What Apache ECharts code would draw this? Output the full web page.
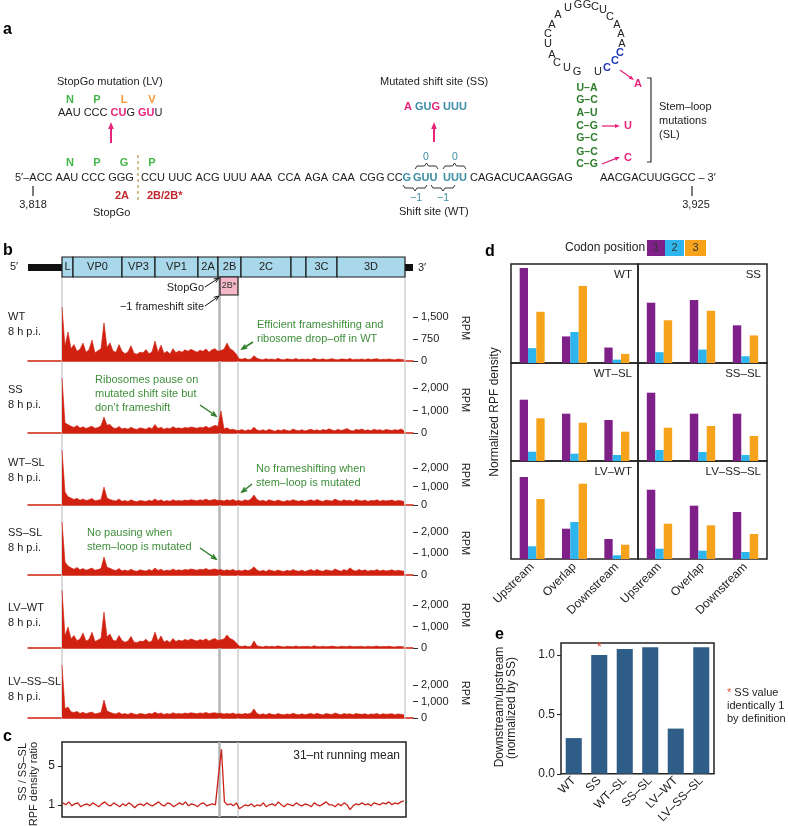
<!DOCTYPE html>
<html>
<head>
<meta charset="utf-8">
<script src="https://cdn.jsdelivr.net/npm/echarts@6/dist/echarts.min.js"></script>
<style>html,body{margin:0;padding:0;background:#fff}#chart{width:788px;height:826px}</style>
</head>
<body>
<div id="chart"></div>
<script>
// ---- data ----
var trackNames = ['WT', 'SS', 'WT\u2013SL', 'SS\u2013SL', 'LV\u2013WT', 'LV\u2013SS\u2013SL'];

// ribosome profiles, RPM, one value per genome bin (115 bins)
var wtRPM = [1840,500,990,420,560,330,400,610,300,380, 715,280,350,420,1300,460,620,340,300,560,
	330,250,310,520,260,230,300,280,390,250, 310,680,300,540,260,330,240,420,280,350,
	300,380,330,400,350,300,370,330,410,300, 380,420,330,360,400,610,420,360,250,80,
	60,90,50,70,180,90,60,40,80,50, 70,45,90,55,40,75,60,50,85,45,
	65,55,70,40,95,60,50,75,45,60, 80,55,40,70,65,50,85,45,60,55,
	70,40,75,50,65,80,45,60,55,70, 50,40,65,55,45];
var ssRPM = [2450,440,380,300,250,330,220,280,200,260, 300,210,240,320,710,350,380,230,200,290,
	180,220,170,260,190,160,230,200,170,250, 190,380,200,260,170,220,190,280,210,230,
	200,250,220,270,240,210,260,230,300,220, 280,340,290,980,180,230,150,170,120,110,
	160,90,140,120,260,130,100,150,90,170, 120,80,140,100,160,110,90,180,120,100,
	150,90,130,170,110,140,95,160,120,190, 130,100,170,110,150,200,120,90,160,130,
	180,110,140,95,170,120,150,100,160,130, 110,150,120,180,100];
var wtslRPM = [2970,700,450,380,300,360,260,330,240,280, 350,230,260,300,970,380,300,250,220,330,
	200,240,190,280,210,180,250,220,190,260, 210,330,220,280,190,240,200,290,220,250,
	220,270,240,290,260,230,280,250,320,240, 270,300,240,260,220,280,240,300,220,250,
	200,280,230,330,540,300,210,260,190,280, 230,200,270,220,180,250,210,290,230,200,
	260,190,240,280,210,300,230,190,270,240, 210,320,250,200,280,230,260,190,300,240,
	220,270,190,250,230,280,200,260,220,240, 270,200,250,230,190];
var ssslRPM = [2460,600,420,330,270,350,240,300,220,270, 320,220,250,300,830,360,310,240,210,300,
	190,230,180,270,200,170,240,210,180,250, 200,320,210,270,180,230,200,280,210,240,
	210,260,230,280,250,220,270,240,300,230, 260,280,230,250,200,240,210,260,190,220,
	180,240,200,260,380,230,170,220,160,240, 200,170,230,190,160,220,180,250,200,170,
	230,160,210,250,180,260,200,170,240,210, 180,280,220,170,250,200,330,220,180,260,
	200,240,170,220,200,250,180,230,190,210, 240,180,220,200,170];
var lvwtRPM = [2700,560,980,430,580,340,420,700,320,400, 730,300,370,450,1670,520,650,360,320,580,
	350,270,330,540,280,250,320,300,410,270, 330,740,320,560,280,350,260,440,300,370,
	320,400,350,420,370,320,390,350,430,320, 400,440,350,380,420,600,440,380,260,90,
	70,100,60,80,330,100,70,50,90,60, 80,55,100,65,50,85,70,60,95,55,
	75,65,80,50,105,70,60,85,55,70, 90,65,50,80,75,60,95,55,70,65,
	80,50,85,60,75,90,55,70,65,80, 60,50,75,65,55];
var lvssslRPM = [3200,560,670,380,330,400,280,350,260,320, 360,250,290,340,1090,420,350,280,250,340,
	230,270,210,310,240,200,280,250,210,290, 240,360,250,310,210,270,230,320,250,280,
	250,300,270,320,290,260,310,280,340,270, 300,320,270,290,240,280,250,300,230,260,
	220,280,240,300,550,270,200,260,190,280, 230,200,270,220,190,250,210,290,230,200,
	260,190,240,280,210,290,230,190,270,240, 210,300,250,200,270,230,260,190,280,240,
	220,260,190,250,230,270,200,260,220,240, 260,200,250,230,190];

// panel c: SS / SS-SL ratio, 31-nt running mean
var ratioSS = [1.2,1.0,1.3,0.9,1.1,1.2,0.8,1.0,1.1,0.9, 1.2,1.0,0.8,1.1,1.3,1.0,0.9,1.2,1.0,0.8,
	1.1,0.9,1.2,1.0,0.7,1.0,1.1,0.9,1.2,1.0, 0.9,1.1,1.3,1.0,0.9,1.2,1.1,0.8,1.0,1.2,
	1.0,1.3,0.9,1.1,1.0,0.8,1.1,1.2,0.9,1.0, 1.1,1.0,4.0,6.7,1.3,1.0,1.1,0.9,1.2,0.6,
	0.8,1.0,0.9,1.1,0.8,1.0,0.9,1.2,0.8,1.0, 1.1,0.9,1.3,1.0,0.8,1.1,1.0,0.9,1.2,1.0,
	0.9,1.1,1.0,0.8,1.2,1.0,0.9,1.1,1.3,1.0, 1.0,0.8,1.1,0.9,1.2,1.0,0.5,0.9,1.1,1.0,
	1.2,1.0,1.1,0.9,1.2,1.1,1.0,1.2,1.1,1.3, 1.0,1.2,1.1,1.3,1.4];

// panel d: normalized RPF density by codon position
var regions = ['Upstream', 'Overlap', 'Downstream'];
var codonPos1 = [[94,26.3,15.3],[59.7,62.3,37.3],[61.3,47.3,41],[68.3,47.3,47.3],[82,30.3,20],[69.3,53.3,47]];
var codonPos2 = [[14.7,30.7,3.3],[10.7,13.3,6.7],[9.3,7.3,6],[11,9,6],[12.7,37,3.7],[10.3,8.3,7]];
var codonPos3 = [[50.7,76.3,9],[42.3,51.7,27.3],[42.7,38.3,29.3],[33.3,35,25],[60,75.3,14.3],[35.3,33.7,25]];

// panel e
var eCats = ['WT', 'SS', 'WT\u2013SL', 'SS\u2013SL', 'LV\u2013WT', 'LV\u2013SS\u2013SL'];
var eVals = [0.30, 1.0, 1.05, 1.065, 0.38, 1.065];

// ---- styling helpers ----
var FONT = '"Liberation Sans", Arial, Helvetica, sans-serif';
var RED = '#d0200f', GREEN = '#3f8f3a', PINK = '#e5247c', TEAL = '#3b8ca5', AAGREEN = '#43b649';
var cPurple = '#7e2087', cBlue = '#2fb5ee', cOrange = '#f7a21b';

function T(x, y, s, o) {
	o = o || {};
	var st = {text: s, fill: o.color || '#222', fontSize: o.size || 11, fontFamily: FONT,
		fontWeight: o.bold ? 'bold' : 'normal',
		textAlign: o.align || 'left', align: o.align || 'left',
		textVerticalAlign: 'middle', verticalAlign: 'middle'};
	if (o.rich) st.rich = o.rich;
	return {type: 'text', x: x, y: y, rotation: o.rot || 0, z: 100, style: st};
}
function R(c, bold, size) {
	return {fill: c, fontFamily: FONT, fontSize: size || 11, fontWeight: bold ? 'bold' : 'normal'};
}
function L(x1, y1, x2, y2, color, w, dash, z) {
	return {type: 'line', z: z || 100, shape: {x1: x1, y1: y1, x2: x2, y2: y2},
		style: {stroke: color, lineWidth: w || 1, lineDash: dash || null}};
}
function arrow(x1, y1, x2, y2, color, lw, hl, open) {
	hl = hl || 6; var hw = hl * 0.8; lw = lw || 1.5;
	var a = Math.atan2(y2 - y1, x2 - x1), c = Math.cos(a), s = Math.sin(a);
	var bx = x2 - hl * c, by = y2 - hl * s;
	var p1 = [bx - hw / 2 * s, by + hw / 2 * c], p2 = [bx + hw / 2 * s, by - hw / 2 * c];
	if (open) {
		return [L(x1, y1, x2, y2, color, lw),
			{type: 'polyline', z: 100, shape: {points: [p1, [x2, y2], p2]}, style: {stroke: color, lineWidth: lw, fill: null}}];
	}
	return [L(x1, y1, bx + c, by + s, color, lw),
		{type: 'polygon', z: 100, shape: {points: [[x2, y2], p1, p2]}, style: {fill: color}}];
}
function brace(x1, x2, y, dir, color) {
	var xm = (x1 + x2) / 2, d = 3 * dir;
	return {type: 'polyline', z: 100, shape: {points: [[x1, y + d], [x1 + 2, y], [xm - 2, y], [xm, y - d], [xm + 2, y], [x2 - 2, y], [x2, y + d]]},
		style: {stroke: color, lineWidth: 1, fill: null}};
}

var G = [];
function add(e) { if (Array.isArray(e)) { G.push.apply(G, e); } else { G.push(e); } }

// ---------- panel a ----------
add(T(3, 30, 'a', {bold: true, size: 16, color: '#000'}));
add(T(57, 82, 'StopGo mutation (LV)'));
add(T(70, 100, 'N', {bold: true, color: AAGREEN, align: 'center'}));
add(T(97, 100, 'P', {bold: true, color: AAGREEN, align: 'center'}));
add(T(124, 100, 'L', {bold: true, color: '#f29a35', align: 'center'}));
add(T(152, 100, 'V', {bold: true, color: '#f29a35', align: 'center'}));
add(T(58, 113, '{k|AAU CCC }{p|CU}{k|G }{p|GU}{k|U}', {rich: {k: R('#222'), p: R(PINK, true)}}));
add(arrow(111, 143, 111, 122, PINK, 2, 7));
add(T(70, 163, 'N', {bold: true, color: AAGREEN, align: 'center'}));
add(T(97, 163, 'P', {bold: true, color: AAGREEN, align: 'center'}));
add(T(124, 163, 'G', {bold: true, color: AAGREEN, align: 'center'}));
add(T(152, 163, 'P', {bold: true, color: AAGREEN, align: 'center'}));
add(L(138, 155, 138, 201, '#b8963e', 1.2, [3, 3]));
add(T(15, 178, '5\u2032\u2013ACC AAU CCC GGG'));
var midCodons = ['CCU', 'UUC', 'ACG', 'UUU', 'AAA', 'CCA', 'AGA', 'CAA', 'CGG', 'CC'];
midCodons.forEach(function (c, i) { add(T(141 + 27.3 * i, 178, c)); });
add(T(402.5, 178, 'G', {color: TEAL, bold: true}));
add(T(413, 178, 'GUU', {color: TEAL, bold: true}));
add(T(443, 178, 'UUU', {color: TEAL, bold: true}));
add(T(470, 178, 'CAGACUCAAGGAG'));
add(T(600, 178, 'AACGACUUGGCC \u2013 3\u2032'));
add(T(122, 196, '2A', {bold: true, color: '#c0272d', align: 'center'}));
add(T(147, 196, '2B/2B*', {bold: true, color: '#c0272d'}));
add(L(33, 186, 33, 196, '#222', 1.2));
add(T(33, 205, '3,818', {align: 'center'}));
add(T(93, 213, 'StopGo'));

add(T(380, 82, 'Mutated shift site (SS)'));
add(T(404, 107, '{p|A} {t|GU}{p|G} {t|UUU}', {rich: {p: R(PINK, true), t: R(TEAL, true)}}));
add(arrow(434, 142, 434, 122, PINK, 2, 7));
add(brace(415, 438, 166, 1, '#333'));
add(brace(443, 466, 166, 1, '#333'));
add(T(426, 157, '0', {color: TEAL, align: 'center', size: 10.5}));
add(T(455, 157, '0', {color: TEAL, align: 'center', size: 10.5}));
add(brace(403, 427, 188, -1, '#333'));
add(brace(431, 455, 188, -1, '#333'));
add(T(416, 198, '\u22121', {color: TEAL, align: 'center', size: 10.5}));
add(T(443, 198, '\u22121', {color: TEAL, align: 'center', size: 10.5}));
add(T(399, 212, 'Shift site (WT)'));
add(L(692, 186, 692, 196, '#222', 1.2));
add(T(696, 205, '3,925', {align: 'center'}));

// stem-loop
var loopLetters = [['C',557,63],['U',567,68],['G',577,72],['A',552,55],['U',548,44],['C',548,34],['A',552,25],
	['A',558,15],['U',568,8],['G',578,5],['G',587,5],['C',595,7],['U',603,10],['C',610,17],['A',617,25],
	['A',621,34],['A',622,44],['U',598,72]];
loopLetters.forEach(function (l) { add(T(l[1], l[2], l[0], {align: 'center', size: 11})); });
[['C',620,53],['C',615,61],['C',607,68]].forEach(function (l) { add(T(l[1], l[2], l[0], {align: 'center', size: 11, bold: true, color: '#2036b8'})); });
var stemPairs = ['U\u2013A', 'G\u2013C', 'A\u2013U', 'C\u2013G', 'G\u2013C', 'G\u2013C', 'C\u2013G'];
var stemY = [88, 100, 113, 126, 138, 152, 164];
stemPairs.forEach(function (p, i) { add(T(587, stemY[i], p, {align: 'center', bold: true, color: '#2e7d2a', size: 10.5})); });
add(arrow(620, 70, 634, 80, PINK, 1.3, 5));
add(T(638, 84, 'A', {align: 'center', bold: true, color: PINK}));
add(arrow(602, 126, 620, 126, PINK, 1.3, 5));
add(T(628, 126, 'U', {align: 'center', bold: true, color: PINK}));
add(arrow(602, 164, 620, 157, PINK, 1.3, 5));
add(T(628, 158, 'C', {align: 'center', bold: true, color: PINK}));
add({type: 'polyline', z: 100, shape: {points: [[647, 78], [651, 78], [651, 162], [647, 162]]}, style: {stroke: '#333', lineWidth: 1.2, fill: null}});
add(T(659, 107, 'Stem\u2013loop'));
add(T(659, 121, 'mutations'));
add(T(659, 135, '(SL)'));

// ---------- panel b: genome map ----------
add(T(3, 251, 'b', {bold: true, size: 16, color: '#000'}));
add(T(10, 267, '5\u2032'));
add({type: 'rect', z: 100, shape: {x: 28, y: 264, width: 34, height: 7}, style: {fill: '#111'}});
add({type: 'rect', z: 100, shape: {x: 405, y: 264, width: 8, height: 7}, style: {fill: '#111'}});
add(T(418, 268, '3\u2032'));
var genes = [['L',62,73],['VP0',73,122],['VP3',122,155],['VP1',155,198],['2A',198,218],['2B',218,241],
	['2C',241,291],['',291,306],['3C',306,337],['3D',337,405]];
genes.forEach(function (g) {
	add({type: 'rect', z: 100, shape: {x: g[1], y: 257, width: g[2] - g[1], height: 20}, style: {fill: '#a9d8ea', stroke: '#1b1b1b', lineWidth: 1.2}});
	if (g[0]) add(T((g[1] + g[2]) / 2, 267, g[0], {align: 'center', size: 11}));
});
add({type: 'rect', z: 100, shape: {x: 220, y: 277, width: 18, height: 18}, style: {fill: '#f4b8c9', stroke: '#1b1b1b', lineWidth: 1.2}});
add(T(229, 286, '2B*', {align: 'center', size: 9, color: '#333'}));
add(arrow(205, 287, 219, 278, '#111', 1, 5, true));
add(T(204, 288, 'StopGo', {align: 'right'}));
add(arrow(205, 306, 219, 296, '#111', 1, 5, true));
add(T(204, 307, '\u22121 frameshift site', {align: 'right'}));

// reference lines through the tracks
add(L(62, 277, 62, 719, '#c4c4c4', 1.2, null, 1));
add(L(219.5, 277, 219.5, 719, '#b4b4b4', 2.5, null, 1));
add(L(238, 295, 238, 719, '#c8c8c8', 1.3, null, 1));
add(L(405, 277, 405, 719, '#c8c8c8', 1.2, null, 1));
add(L(219.5, 742, 219.5, 817, '#b4b4b4', 2.5, null, 1));
add(L(238, 742, 238, 817, '#c8c8c8', 1.3, null, 1));

// track labels
var nameY = [317, 390, 463, 533, 608, 682];
var rpmY = [328, 400, 475, 543, 615, 693];
trackNames.forEach(function (n, i) {
	add(T(8, nameY[i], n));
	add(T(8, nameY[i] + 15, '8 h p.i.'));
	add(T(465, rpmY[i], 'RPM', {align: 'center', rot: -Math.PI / 2}));
});

// annotations
add(T(257, 325, 'Efficient frameshifting and', {color: GREEN}));
add(T(257, 339, 'ribosome drop\u2013off in WT', {color: GREEN}));
add(arrow(253, 342, 242, 349, '#2f7d2a', 1.5, 5, true));
add(T(95, 380, 'Ribosomes pause on', {color: GREEN}));
add(T(95, 394, 'mutated shift site but', {color: GREEN}));
add(T(95, 408, 'don\u2019t frameshift', {color: GREEN}));
add(arrow(200, 405, 216, 416, '#2f7d2a', 1.5, 5, true));
add(T(256, 469, 'No frameshifting when', {color: GREEN}));
add(T(256, 483, 'stem\u2013loop is mutated', {color: GREEN}));
add(arrow(252, 484, 242, 492, '#2f7d2a', 1.5, 5, true));
add(T(87, 533, 'No pausing when', {color: GREEN}));
add(T(87, 547, 'stem\u2013loop is mutated', {color: GREEN}));
add(arrow(200, 548, 216, 559, '#2f7d2a', 1.5, 5, true));

// ---------- panel c labels ----------
add(T(3, 737, 'c', {bold: true, size: 16, color: '#000'}));
add(T(23, 772, 'SS / SS\u2013SL', {align: 'center', rot: Math.PI / 2, size: 11}));
add(T(34, 784, 'RPF density ratio', {align: 'center', rot: Math.PI / 2, size: 11}));
add(T(400, 756, '31\u2013nt running mean', {align: 'right', size: 12}));

// ---------- panel d labels ----------
add(T(485, 252, 'd', {bold: true, size: 16, color: '#000'}));
add(T(565, 248, 'Codon position', {size: 12}));
[[647, 18, cPurple, '1'], [665, 19, cBlue, '2'], [685, 21, cOrange, '3']].forEach(function (b) {
	add({type: 'rect', z: 100, shape: {x: b[0], y: 240, width: b[1], height: 16}, style: {fill: b[2]}});
	add(T(b[0] + b[1] / 2, 248, b[3], {align: 'center', size: 11, color: '#333'}));
});
add(T(495, 412, 'Normalized RPF density', {align: 'center', rot: Math.PI / 2, size: 12}));

// ---------- panel e labels ----------
add(T(495, 635, 'e', {bold: true, size: 16, color: '#000'}));
add(T(500, 707, 'Downstream/upstream', {align: 'center', rot: Math.PI / 2, size: 12}));
add(T(512, 708, '(normalized by SS)', {align: 'center', rot: Math.PI / 2, size: 12}));
add(T(727, 693, '{r|*} SS value', {size: 11, rich: {r: R('#e0533b', false, 11)}}));
add(T(727, 706, 'identically 1', {size: 11}));
add(T(727, 719, 'by definition', {size: 11}));

// ---------- chart option ----------
var grids = [], xAxes = [], yAxes = [], series = [];
var trackData = [wtRPM, ssRPM, wtslRPM, ssslRPM, lvwtRPM, lvssslRPM];
var trackBox = [[295, 66, 2250, [0, 750, 1500]], [365.5, 67.5, 3000, [0, 1000, 2000]], [449.5, 55.5, 3000, [0, 1000, 2000]],
	[510.2, 64.8, 3000, [0, 1000, 2000]], [583.5, 64.5, 3000, [0, 1000, 2000]], [652, 66, 4000, [0, 1000, 2000]]];

trackData.forEach(function (arr, k) {
	var b = trackBox[k];
	grids.push({left: 28, top: b[0], width: 385, height: b[1]});
	xAxes.push({type: 'value', gridIndex: k, min: -11.333, max: 117,
		axisLine: {show: true, lineStyle: {color: RED, width: 1.5}}, axisTick: {show: false},
		axisLabel: {show: false}, splitLine: {show: false}});
	yAxes.push({type: 'value', gridIndex: k, position: 'right', min: 0, max: b[2],
		axisLine: {show: false, onZero: false}, splitLine: {show: false},
		axisTick: {show: true, length: 5, customValues: b[3], lineStyle: {color: '#333'}},
		axisLabel: {customValues: b[3], margin: 8, fontSize: 11, color: '#222', fontFamily: FONT,
			formatter: function (v) { return v.toLocaleString('en-US'); }}});
	series.push({type: 'line', xAxisIndex: k, yAxisIndex: k, silent: true, symbol: 'none',
		data: arr.map(function (v, i) { return [i, v]; }),
		lineStyle: {color: RED, width: 0.6}, areaStyle: {color: RED, opacity: 1}});
});

// panel c
grids.push({left: 62, top: 742, width: 344, height: 75, show: true, borderColor: '#222', borderWidth: 1.5});
xAxes.push({type: 'value', gridIndex: 6, min: -0.3, max: 114.7, axisLine: {show: false}, axisTick: {show: false},
	axisLabel: {show: false}, splitLine: {show: false}});
yAxes.push({type: 'value', gridIndex: 6, min: -0.25, max: 7.45, axisLine: {show: false, onZero: false}, splitLine: {show: false},
	axisTick: {show: true, length: 4, customValues: [1, 5], lineStyle: {color: '#222'}},
	axisLabel: {customValues: [1, 5], fontSize: 12, color: '#222', fontFamily: FONT, margin: 7}});
series.push({type: 'line', xAxisIndex: 6, yAxisIndex: 6, silent: true, symbol: 'none',
	data: ratioSS.map(function (v, i) { return [i, v]; }), lineStyle: {color: '#c8211a', width: 1.3}});

// panel d
var dLeft = [511, 638], dWidth = [127, 129], dTop = [264, 363, 461], dHeight = [99, 98, 98];
trackNames.forEach(function (name, p) {
	var col = p % 2, row = Math.floor(p / 2), gi = 7 + p;
	grids.push({left: dLeft[col], top: dTop[row], width: dWidth[col], height: dHeight[row], show: true,
		borderColor: '#222', borderWidth: 1.5});
	xAxes.push({type: 'category', gridIndex: gi, data: regions, axisLine: {show: false}, axisTick: {show: false},
		axisLabel: {show: row === 2, rotate: 45, fontSize: 12, color: '#222', fontFamily: FONT, margin: 6}});
	yAxes.push({type: 'value', gridIndex: gi, min: 0, max: 98, show: false});
	[[codonPos1, cPurple], [codonPos2, cBlue], [codonPos3, cOrange]].forEach(function (s) {
		series.push({type: 'bar', xAxisIndex: gi, yAxisIndex: gi, silent: true, data: s[0][p],
			itemStyle: {color: s[1]}, barGap: '0%', barCategoryGap: '41%'});
	});
	add(T(dLeft[col] + dWidth[col] - 6, dTop[row] + 11, name, {align: 'right', size: 11.5}));
});

// panel e
grids.push({left: 561, top: 643, width: 153, height: 131, show: true, borderColor: '#222', borderWidth: 1.5});
xAxes.push({type: 'category', gridIndex: 13, data: eCats, axisLine: {show: false}, axisTick: {show: false},
	axisLabel: {rotate: 45, fontSize: 12, color: '#222', fontFamily: FONT, margin: 5, interval: 0}});
yAxes.push({type: 'value', gridIndex: 13, min: 0, max: 1.1, axisLine: {show: false, onZero: false}, splitLine: {show: false},
	axisTick: {show: true, length: 4, customValues: [0, 0.5, 1], lineStyle: {color: '#222'}},
	axisLabel: {customValues: [0, 0.5, 1], fontSize: 12, color: '#222', fontFamily: FONT, margin: 6,
		formatter: function (v) { return v.toFixed(1); }}});
series.push({type: 'bar', xAxisIndex: 13, yAxisIndex: 13, silent: true, barCategoryGap: '37%',
	itemStyle: {color: '#2e5d88'},
	data: eVals.map(function (v, i) {
		return i === 1 ? {value: v, label: {show: true, position: 'top', distance: 1, formatter: '*', color: '#e0533b', fontSize: 13}} : v;
	})});

var chart = echarts.init(document.getElementById('chart'), null, {renderer: 'canvas'});
chart.setOption({
	animation: false,
	backgroundColor: '#fff',
	textStyle: {fontFamily: FONT},
	grid: grids,
	xAxis: xAxes,
	yAxis: yAxes,
	series: series,
	graphic: {elements: G}
});
</script>
</body>
</html>
